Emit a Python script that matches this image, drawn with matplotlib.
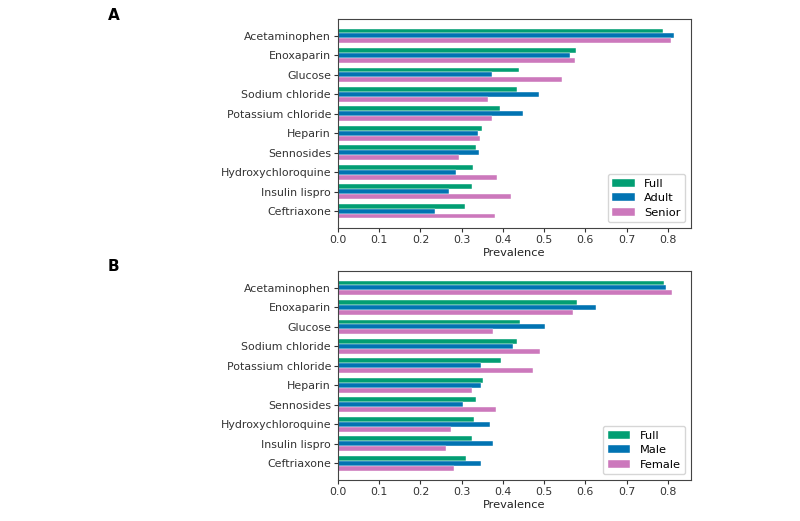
import numpy as np
import matplotlib.pyplot as plt

drugs = ["Acetaminophen", "Enoxaparin", "Glucose", "Sodium chloride",
         "Potassium chloride", "Heparin", "Sennosides", "Hydroxychloroquine",
         "Insulin lispro", "Ceftriaxone"]

# panel A: age groups
full_a = [0.788, 0.577, 0.440, 0.434, 0.394, 0.350, 0.335, 0.328, 0.325, 0.309]
adult = [0.816, 0.564, 0.373, 0.488, 0.448, 0.340, 0.342, 0.286, 0.270, 0.236]
senior = [0.809, 0.574, 0.544, 0.365, 0.373, 0.345, 0.294, 0.385, 0.420, 0.382]

# panel B: sex
full_b = [0.792, 0.579, 0.441, 0.435, 0.395, 0.351, 0.336, 0.330, 0.326, 0.311]
male = [0.797, 0.626, 0.503, 0.424, 0.346, 0.348, 0.303, 0.370, 0.375, 0.346]
female = [0.811, 0.571, 0.375, 0.490, 0.472, 0.324, 0.383, 0.273, 0.262, 0.281]

colors = ["#029e73", "#0173b2", "#cc78bc"]
fs = 7.9

fig = plt.figure(figsize=(8, 5.21), dpi=100)
ax_a = fig.add_axes([0.4225, 0.5624, 0.441, 0.401])
ax_b = fig.add_axes([0.4225, 0.0787, 0.441, 0.401])


def draw(ax, series, labels):
    y = np.arange(len(drugs))
    h = 0.25
    for i, (vals, lab) in enumerate(zip(series, labels)):
        ax.barh(y + (i - 1) * h, vals, height=h, color=colors[i],
                edgecolor="white", linewidth=0.3, label=lab)
    ax.set_yticks(y)
    ax.set_yticklabels(drugs, fontsize=fs, color="#222222")
    ax.invert_yaxis()
    ax.set_xlim(0, 0.856)
    ax.set_xticks(np.arange(0, 0.81, 0.1))
    ax.set_xticklabels([f"{v:.1f}" for v in np.arange(0, 0.81, 0.1)],
                       fontsize=fs, color="#222222")
    ax.set_xlabel("Prevalence", fontsize=fs + 0.3, color="#222222", labelpad=2)
    ax.tick_params(length=3, width=0.8, pad=2, colors="#333333")
    for s in ax.spines.values():
        s.set_color("#444444")
        s.set_linewidth(0.8)
    ax.legend(loc="lower right", fontsize=fs + 0.3, handlelength=2.0,
              borderpad=0.4, labelspacing=0.4)


draw(ax_a, [full_a, adult, senior], ["Full", "Adult", "Senior"])
draw(ax_b, [full_b, male, female], ["Full", "Male", "Female"])

fig.text(0.135, 0.971, "A", fontsize=11, fontweight="bold", va="center")
fig.text(0.135, 0.489, "B", fontsize=11, fontweight="bold", va="center")

fig.savefig("out.png", dpi=100)
